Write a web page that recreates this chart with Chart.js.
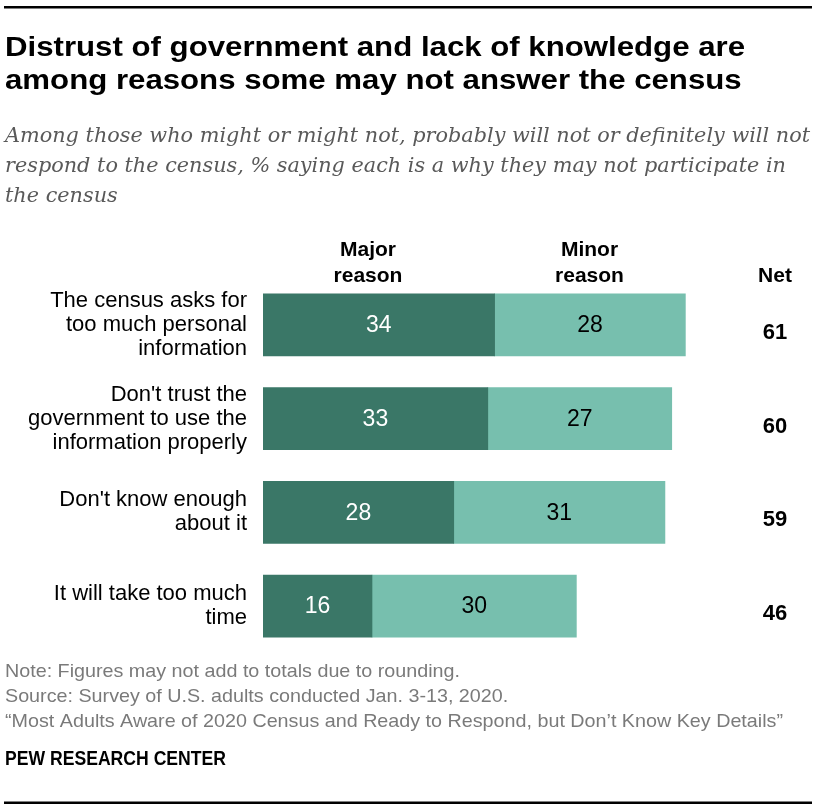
<!DOCTYPE html>
<html>
<head>
<meta charset="utf-8">
<script src="https://cdn.jsdelivr.net/npm/chart.js@4.4.1/dist/chart.umd.min.js"></script>
<style>
  html, body { margin: 0; padding: 0; background: #fff; }
  #wrap { position: relative; width: 820px; height: 812px; }
</style>
</head>
<body>
<div id="wrap"><canvas id="c" width="820" height="812"></canvas></div>
<script>
// ---- data ----
const categories = [
  ["The census asks for", "too much personal", "information"],
  ["Don't trust the", "government to use the", "information properly"],
  ["Don't know enough", "about it"],
  ["It will take too much", "time"]
];
const majorReason = [34, 33, 28, 16];
const minorReason = [28, 27, 31, 30];
const netValues = [61, 60, 59, 46];
const seriesNames = [["Major", "reason"], ["Minor", "reason"]];
const netHeader = "Net";
const titleLines = [
  "Distrust of government and lack of knowledge are",
  "among reasons some may not answer the census"
];
const subtitleLines = [
  "Among those who might or might not, probably will not or definitely will not",
  "respond to the census, % saying each is a why they may not participate in",
  "the census"
];
const noteLines = [
  "Note: Figures may not add to totals due to rounding.",
  "Source: Survey of U.S. adults conducted Jan. 3-13, 2020.",
  "\u201CMost Adults Aware of 2020 Census and Ready to Respond, but Don\u2019t Know Key Details\u201D"
];
const sourceOrg = "PEW RESEARCH CENTER";

// ---- styles ----
const DARK = "#3a7767";
const LIGHT = "#77bfae";
const SANS = '"Liberation Sans", Arial, Helvetica, sans-serif';
const SERIF = '"DejaVu Serif", Georgia, serif';

function measure(ctx, s, font) {
  ctx.save(); ctx.font = font; const w = ctx.measureText(s).width; ctx.restore(); return w;
}
function fit(ctx, s, font, target) {
  const sx = target / measure(ctx, s, font);
  return Math.max(0.75, Math.min(1.3, sx));
}
function txt(ctx, s, x, y, font, color, align, sx, baseline) {
  ctx.save();
  ctx.font = font; ctx.fillStyle = color;
  ctx.textAlign = align || 'left';
  ctx.textBaseline = baseline || 'alphabetic';
  ctx.translate(x, y); ctx.scale(sx || 1, 1);
  ctx.fillText(s, 0, 0);
  ctx.restore();
}

const decor = {
  id: 'decor',
  afterDraw(chart) {
    const ctx = chart.ctx;
    const xs = chart.scales.x;
    // rules
    ctx.save();
    ctx.fillStyle = '#000';
    ctx.fillRect(4, 6, 808, 2.5);
    ctx.fillRect(4, 801.5, 808, 2.5);
    ctx.restore();

    // title
    const tf = 'bold 28px ' + SANS;
    const tsx = fit(ctx, titleLines[0], tf, 740);
    txt(ctx, titleLines[0], 5, 56, tf, '#000', 'left', tsx);
    txt(ctx, titleLines[1], 5, 89, tf, '#000', 'left', tsx);

    // subtitle
    const sf = 'italic 20.5px ' + SERIF;
    const ssx = fit(ctx, subtitleLines[0], sf, 805);
    [142, 172, 202].forEach((y, i) => txt(ctx, subtitleLines[i], 5, y, sf, '#595959', 'left', ssx));

    // column headers
    const hf = 'bold 21px ' + SANS;
    const hx = [368, 589.5];
    seriesNames.forEach((lines, i) => {
      txt(ctx, lines[0], hx[i], 256, hf, '#000', 'center');
      txt(ctx, lines[1], hx[i], 282, hf, '#000', 'center');
    });
    const netX = xs.right - 33;
    txt(ctx, netHeader, netX, 282, hf, '#000', 'center');

    // bar value labels and net
    const vf = '23px ' + SANS;
    const metaA = chart.getDatasetMeta(0), metaB = chart.getDatasetMeta(1);
    categories.forEach((c, i) => {
      const a = metaA.data[i], b = metaB.data[i];
      txt(ctx, String(majorReason[i]), (a.base + a.x) / 2, a.y + 1, vf, '#fff', 'center', 1, 'middle');
      txt(ctx, String(minorReason[i]), (b.base + b.x) / 2, b.y + 1, vf, '#000', 'center', 1, 'middle');
      txt(ctx, String(netValues[i]), netX, a.y + 8, 'bold 22px ' + SANS, '#000', 'center', 1, 'middle');
    });

    // notes
    const nf = '18.5px ' + SANS;
    const nsx = fit(ctx, noteLines[2], nf, 778);
    [677, 702, 727].forEach((y, i) => txt(ctx, noteLines[i], 5, y, nf, '#7a7a7a', 'left', nsx));
    const pf = 'bold 20px ' + SANS;
    txt(ctx, sourceOrg, 5, 765, pf, '#000', 'left', fit(ctx, sourceOrg, pf, 221));
  }
};

new Chart(document.getElementById('c'), {
  type: 'bar',
  data: {
    labels: categories,
    datasets: [
      { label: 'Major reason', data: majorReason, backgroundColor: DARK, borderWidth: 0, barThickness: 62 },
      { label: 'Minor reason', data: minorReason, backgroundColor: LIGHT, borderWidth: 0, barThickness: 62 }
    ]
  },
  options: {
    indexAxis: 'y',
    responsive: false,
    animation: false,
    events: [],
    layout: { padding: { top: 278, bottom: 159, left: 0, right: 12 } },
    plugins: { legend: { display: false }, tooltip: { enabled: false }, title: { display: false } },
    scales: {
      x: { stacked: true, min: 0, max: 80, display: false },
      y: {
        stacked: true,
        grid: { display: false, drawTicks: false },
        border: { display: false },
        ticks: {
          color: '#000',
          padding: 16,
          crossAlign: 'near',
          font: { family: SANS, size: 22, lineHeight: 1.09 }
        },
        afterFit(scale) { scale.width = 263; }
      }
    }
  },
  plugins: [decor]
});
</script>
</body>
</html>
